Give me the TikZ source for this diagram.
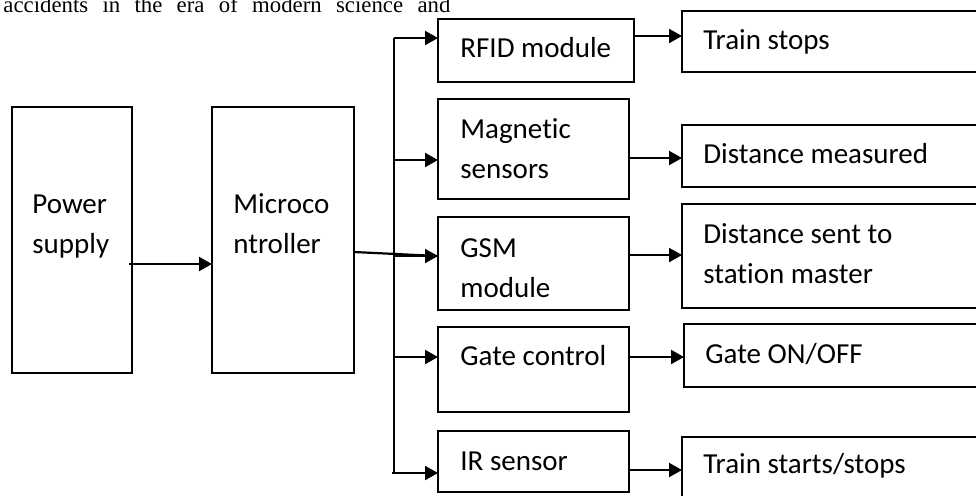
\documentclass[tikz,border=0pt]{standalone}
\usepackage{fontspec}
\setmainfont{Carlito}[Ligatures=NoCommon]
\newfontfamily\bodyfont{Liberation Serif}
\usepackage{tikz}
\usetikzlibrary{arrows.meta}

\begin{document}
\begin{tikzpicture}[x=0.5pt,y=-0.5pt,
    box/.style={draw, line width=1.1pt, anchor=north west, inner sep=0pt, outer sep=0pt},
    lbl/.style={anchor=base west, inner sep=0pt, align=left, font=\fontsize{14.5}{20}\selectfont},
    wire/.style={line width=1.1pt},
    arr/.style={wire, -{Triangle[length=6.5pt,width=7pt]}}]
  \useasboundingbox (0,0) rectangle (976,495);
  \clip (0,0) rectangle (976,495);

  % page text above the figure
  \node[anchor=base west, inner sep=0pt, font=\bodyfont\fontsize{11.4}{13}\selectfont] (body) at (3,12)
    {\makebox[223.5pt][s]{accidents in the era of modern science and}};

  % left blocks
  \node[box, minimum width=60pt, minimum height=133pt] (ps) at (12,107) {};
  \node[box, minimum width=71pt, minimum height=133pt] (mcu) at (212,107) {};
  % (base of a two-line label = its last line)
  \node[lbl] (ps-t) at (32,253) {Power\\supply};
  \node[lbl] (mcu-t) at (233,253) {Microco\\ntroller};

  % middle blocks
  \node[box, minimum width=98pt, minimum height=31.5pt] (rfid) at (438,19) {};
  \node[box, minimum width=95.5pt, minimum height=50pt] (mag) at (438,99) {};
  \node[box, minimum width=95.5pt, minimum height=46.5pt] (gsm) at (438,217) {};
  \node[box, minimum width=95.5pt, minimum height=42.5pt] (gate) at (438,327) {};
  \node[box, minimum width=95.5pt, minimum height=30.5pt] (ir) at (438,431) {};
  \node[lbl] (rfid-t) at (460,57) {RFID module};
  \node[lbl] (mag-t) at (460,178) {Magnetic\\sensors};
  \node[lbl] (gsm-t) at (460,297) {GSM\\module};
  \node[lbl] (gate-t) at (460,365) {Gate control};
  \node[lbl] (ir-t) at (460,470) {IR sensor};

  % right blocks (run off the page)
  \node[box, minimum width=160pt, minimum height=30.5pt] (stop) at (682,11) {};
  \node[box, minimum width=160pt, minimum height=31pt] (dist) at (682,125) {};
  \node[box, minimum width=160pt, minimum height=52pt] (sent) at (682,204) {};
  \node[box, minimum width=160pt, minimum height=31.5pt] (onoff) at (684,324) {};
  \node[box, minimum width=160pt, minimum height=40pt] (start) at (682,437) {};
  \node[lbl] (stop-t) at (703,49) {Train stops};
  \node[lbl] (dist-t) at (703,163) {Distance measured};
  \node[lbl] (sent-t) at (703,283) {Distance sent to\\station master};
  \node[lbl] (onoff-t) at (705,363) {Gate ON/OFF};
  \node[lbl] (start-t) at (703,473) {Train starts/stops};

  % connections
  \draw[arr] ([xshift=-1.5pt]ps.east |- 0,264) -- (mcu.west |- 0,264);
  \draw[wire] (mcu.east |- 0,252) -- (gsm.west |- 0,256);
  \draw[arr] (394,256) -- (gsm.west |- 0,256);

  \coordinate (bustop) at (394,38);
  \coordinate (busbot) at (394,473);
  \draw[wire] (bustop) -- (busbot);
  \draw[arr] (bustop) -- (rfid.west |- bustop);
  \draw[arr] (bustop |- 0,160) -- (mag.west |- 0,160);
  \draw[arr] (bustop |- 0,357) -- (gate.west |- 0,357);
  \draw[arr] ([xshift=-1pt]busbot) -- (ir.west |- busbot);

  \draw[arr] (rfid.east |- 0,36) -- (stop.west |- 0,36);
  \draw[arr] (mag.east |- 0,158) -- (dist.west |- 0,158);
  \draw[arr] (gsm.east |- 0,255) -- (sent.west |- 0,255);
  \draw[arr] (gate.east |- 0,357) -- (onoff.west |- 0,357);
  \draw[arr] (ir.east |- 0,470) -- (start.west |- 0,470);
\end{tikzpicture}
\end{document}
